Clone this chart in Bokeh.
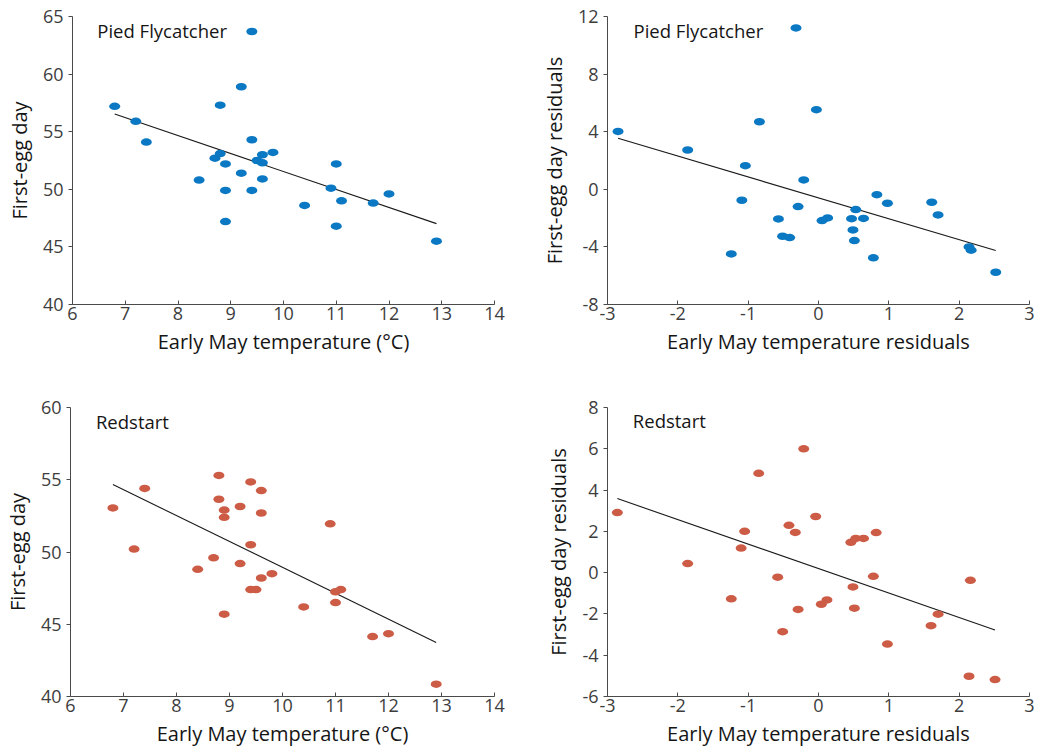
from bokeh.plotting import figure
from bokeh.layouts import column, row
from bokeh.models import Range1d, FixedTicker, Label, PrintfTickFormatter
from bokeh.embed import file_html
from bokeh.resources import INLINE

# ---------------- data ----------------
temperature = [6.8, 7.2, 7.4, 8.4, 8.7, 8.8, 8.8, 8.9, 8.9, 8.9, 9.2, 9.2, 9.4, 9.4,
               9.4, 9.5, 9.6, 9.6, 9.6, 9.8, 10.4, 10.9, 11.0, 11.0, 11.1, 11.7, 12.0, 12.9]
pf_day = [57.2, 55.9, 54.1, 50.8, 52.7, 53.1, 57.3, 52.2, 49.9, 47.2, 58.9, 51.4, 63.7, 54.3,
          49.9, 52.5, 53.0, 52.3, 50.9, 53.2, 48.6, 50.1, 52.2, 46.8, 49.0, 48.8, 49.6, 45.5]
rs_temp = [6.8, 7.2, 7.4, 8.4, 8.7, 8.8, 8.8, 8.9, 8.9, 8.9, 9.2, 9.2, 9.4, 9.4,
           9.4, 9.5, 9.6, 9.6, 9.6, 9.8, 10.4, 10.9, 11.0, 11.0, 11.1, 11.7, 12.0, 12.9]
rs_day = [53.05, 50.2, 54.4, 48.8, 49.6, 55.3, 53.65, 52.9, 52.4, 45.7, 53.15, 49.2, 54.85, 50.5,
          47.4, 47.4, 54.25, 52.7, 48.2, 48.5, 46.2, 51.95, 47.25, 46.5, 47.4, 44.15, 44.35, 40.85]

pf_temp_res = [-2.85, -1.86, -1.24, -1.09, -1.04, -0.84, -0.57, -0.51, -0.41, -0.32, -0.29, -0.21,
               -0.03, 0.05, 0.13, 0.47, 0.49, 0.51, 0.53, 0.64, 0.78, 0.83, 0.98, 1.61, 1.70,
               2.14, 2.17, 2.52]
pf_day_res = [4.02, 2.73, -4.49, -0.76, 1.64, 4.69, -2.06, -3.26, -3.35, 11.21, -1.20, 0.65,
              5.53, -2.17, -1.99, -2.04, -2.82, -3.56, -1.41, -2.02, -4.76, -0.37, -0.97, -0.90,
              -1.78, -4.0, -4.23, -5.76]
rs_temp_res = [-2.86, -1.86, -1.24, -1.10, -1.05, -0.85, -0.58, -0.51, -0.42, -0.33, -0.29, -0.21,
               -0.04, 0.04, 0.12, 0.46, 0.49, 0.51, 0.53, 0.64, 0.78, 0.82, 0.98, 1.60, 1.70,
               2.14, 2.16, 2.51]
rs_day_res = [2.91, 0.44, -1.27, 1.19, 2.0, 4.81, -0.22, -2.86, 2.29, 1.95, -1.78, 6.0, 2.72,
              -1.53, -1.32, 1.47, -0.69, -1.72, 1.66, 1.66, -0.18, 1.94, -3.46, -2.57, -2.01,
              -5.02, -0.37, -5.18]

# fitted regression lines (end points)
pf_fit_x = [6.8, 12.9]
pf_fit_y = [56.53, 47.02]
pf_res_fit_x = [-2.85, 2.52]
pf_res_fit_y = [3.54, -4.25]
rs_fit_x = [6.8, 12.9]
rs_fit_y = [54.67, 43.74]
rs_res_fit_x = [-2.86, 2.51]
rs_res_fit_y = [3.59, -2.78]

temp_ticks = [6, 7, 8, 9, 10, 11, 12, 13, 14]
res_ticks = [-3, -2, -1, 0, 1, 2, 3]
pf_day_ticks = [40, 45, 50, 55, 60, 65]
pf_res_ticks = [-8, -4, 0, 4, 8, 12]
rs_day_ticks = [40, 45, 50, 55, 60]
rs_res_ticks = [-6, -4, -2, 0, 2, 4, 6, 8]

BLUE = "#0a78c2"
RED = "#cd5c47"
FONT = "Open Sans"


def panel(xs, ys, fx, fy, xr, yr, xt, yt, color, xlabel, ylabel, title, tx, ty,
          w, h, bl, br, bt, bb):
    p = figure(width=w, height=h, output_backend="svg", toolbar_location=None,
               x_range=Range1d(*xr), y_range=Range1d(*yr),
               min_border_left=bl, min_border_right=br, min_border_top=bt,
               min_border_bottom=bb)
    p.outline_line_color = None
    p.grid.visible = False
    p.line(fx, fy, line_color="#1a1a1a", line_width=1.1)
    p.ellipse(x=xs, y=ys, width=11, height=7.5, width_units="screen",
              height_units="screen", fill_color=color, line_color=None)
    for ax in (p.xaxis[0], p.yaxis[0]):
        ax.axis_line_color = "#4a4a4a"
        ax.major_tick_line_color = "#4a4a4a"
        ax.minor_tick_line_color = None
        ax.major_label_text_font = FONT
        ax.major_label_text_font_size = "18px"
        ax.major_label_text_color = "#3d3d3d"
        ax.axis_label_text_font = FONT
        ax.axis_label_text_font_size = "20px"
        ax.axis_label_text_font_style = "normal"
        ax.axis_label_text_color = "#151515"
        ax.formatter = PrintfTickFormatter(format="%d")
    p.xaxis.ticker = FixedTicker(ticks=xt)
    p.yaxis.ticker = FixedTicker(ticks=yt)
    p.xaxis.major_tick_in = 4
    p.xaxis.major_tick_out = 0
    p.yaxis.major_tick_in = 0
    p.yaxis.major_tick_out = 4
    p.xaxis.major_label_standoff = 2
    p.yaxis.major_label_standoff = 5
    p.xaxis.axis_label_standoff = 5
    p.yaxis.axis_label_standoff = 7
    p.xaxis.axis_label = xlabel
    p.yaxis.axis_label = ylabel
    p.add_layout(Label(x=tx, y=ty, text=title, text_font=FONT, text_font_size="18.5px",
                       text_font_style="normal", text_color="#151515",
                       text_baseline="alphabetic", text_align="left"))
    return p


p1 = panel(temperature, pf_day, pf_fit_x, pf_fit_y, (6, 14), (40, 65), temp_ticks, pf_day_ticks,
           BLUE, "Early May temperature (°C)", "First-egg day", "Pied Flycatcher", 6.47, 63.82,
           520, 370, 72, 26, 16, 66)
p2 = panel(pf_temp_res, pf_day_res, pf_res_fit_x, pf_res_fit_y, (-3, 3), (-8, 12), res_ticks,
           pf_res_ticks, BLUE, "Early May temperature residuals", "First-egg day residuals",
           "Pied Flycatcher", -2.63, 11.06, 519, 370, 87, 10, 16, 66)
p3 = panel(rs_temp, rs_day, rs_fit_x, rs_fit_y, (6, 14), (40, 60), temp_ticks, rs_day_ticks,
           RED, "Early May temperature (°C)", "First-egg day", "Redstart", 6.48, 59.0,
           520, 379, 70, 26, 37, 53)
p4 = panel(rs_temp_res, rs_day_res, rs_res_fit_x, rs_res_fit_y, (-3, 3), (-6, 8), res_ticks,
           rs_res_ticks, RED, "Early May temperature residuals", "First-egg day residuals",
           "Redstart", -2.64, 7.35, 519, 379, 87, 10, 37, 52)

layout = column(row(p1, p2, spacing=0), row(p3, p4, spacing=0), spacing=0)

with open("out.html", "w") as f:
    f.write(file_html(layout, INLINE))
